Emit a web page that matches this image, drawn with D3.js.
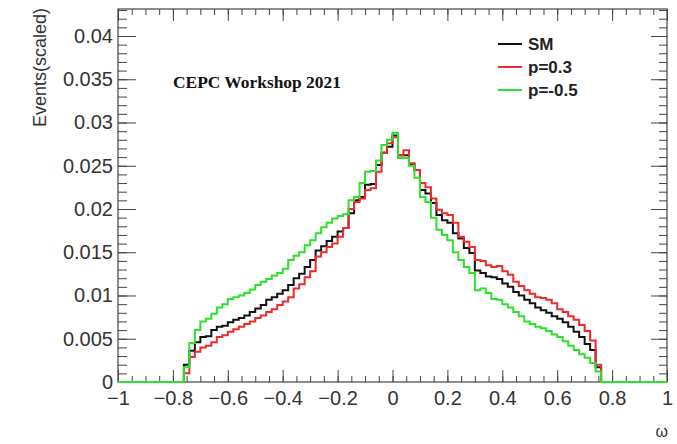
<!DOCTYPE html>
<html>
<head>
<meta charset="utf-8">
<script src="https://cdn.jsdelivr.net/npm/d3@7"></script>
<style>
  body { margin: 0; background: #fff; }
  text { font-family: "Liberation Sans", Arial, sans-serif; }
</style>
</head>
<body>
<svg width="677" height="444"></svg>
<script>
// histogram: 100 bins on [-1,1], only [-0.76,0.76] is filled
var binLow = -0.76;
var binWidth = 0.02;

var smValues = [
  0.0020, 0.0036, 0.0046, 0.0052, 0.0053, 0.0060, 0.0064, 0.0065, 0.0069, 0.0072,
  0.0074, 0.0077, 0.0081, 0.0085, 0.0089, 0.0095, 0.0098, 0.0102, 0.0106, 0.0112,
  0.0120, 0.0125, 0.0133, 0.0141, 0.0152, 0.0157, 0.0163, 0.0168, 0.0174, 0.0178,
  0.0195, 0.0210, 0.0214, 0.0228, 0.0229, 0.0251, 0.0265, 0.0272,
  0.0285, 0.0262, 0.0262, 0.0252, 0.0245, 0.0222, 0.0218, 0.0207, 0.0193, 0.0187,
  0.0184, 0.0172, 0.0166, 0.0155, 0.0149, 0.0129, 0.0126, 0.0122, 0.0121, 0.0119,
  0.0114, 0.0110, 0.0104, 0.0100, 0.0095, 0.0091, 0.0086, 0.0083, 0.0080, 0.0076,
  0.0073, 0.0069, 0.0064, 0.0058, 0.0052, 0.0044, 0.0037, 0.0017
];

var p03Values = [
  0.0010, 0.0029, 0.0035, 0.0040, 0.0042, 0.0046, 0.0052, 0.0054, 0.0058, 0.0061,
  0.0064, 0.0067, 0.0070, 0.0074, 0.0077, 0.0081, 0.0084, 0.0089, 0.0093, 0.0098,
  0.0108, 0.0113, 0.0121, 0.0128, 0.0145, 0.0150, 0.0156, 0.0160, 0.0168, 0.0178,
  0.0200, 0.0208, 0.0212, 0.0222, 0.0224, 0.0243, 0.0265, 0.0276,
  0.0283, 0.0262, 0.0268, 0.0253, 0.0245, 0.0230, 0.0225, 0.0212, 0.0199, 0.0195,
  0.0193, 0.0184, 0.0168, 0.0162, 0.0156, 0.0141, 0.0140, 0.0135, 0.0133, 0.0134,
  0.0128, 0.0124, 0.0116, 0.0111, 0.0106, 0.0102, 0.0098, 0.0097, 0.0095, 0.0091,
  0.0084, 0.0081, 0.0076, 0.0072, 0.0066, 0.0059, 0.0048, 0.0020
];

var pm05Values = [
  0.0017, 0.0045, 0.0060, 0.0070, 0.0073, 0.0079, 0.0086, 0.0090, 0.0096, 0.0098,
  0.0100, 0.0103, 0.0107, 0.0112, 0.0116, 0.0119, 0.0123, 0.0126, 0.0131, 0.0141,
  0.0146, 0.0150, 0.0158, 0.0164, 0.0172, 0.0179, 0.0184, 0.0189, 0.0192, 0.0194,
  0.0210, 0.0214, 0.0230, 0.0243, 0.0244, 0.0256, 0.0274, 0.0280,
  0.0288, 0.0259, 0.0259, 0.0250, 0.0236, 0.0214, 0.0208, 0.0190, 0.0176, 0.0170,
  0.0164, 0.0150, 0.0141, 0.0133, 0.0126, 0.0106, 0.0108, 0.0103, 0.0096, 0.0095,
  0.0090, 0.0086, 0.0081, 0.0076, 0.0070, 0.0067, 0.0064, 0.0062, 0.0059, 0.0055,
  0.0052, 0.0047, 0.0042, 0.0037, 0.0032, 0.0028, 0.0022, 0.0012
];

var series = [
  { name: "SM",     values: smValues,   color: "#111111" },
  { name: "p=0.3",  values: p03Values,  color: "#ee2a2a" },
  { name: "p=-0.5", values: pm05Values, color: "#2fe02f" }
];

var xTicks = [-1, -0.8, -0.6, -0.4, -0.2, 0, 0.2, 0.4, 0.6, 0.8, 1];
var xTickLabels = ["\u22121", "\u22120.8", "\u22120.6", "\u22120.4", "\u22120.2", "0", "0.2", "0.4", "0.6", "0.8", "1"];
var yTicks = [0, 0.005, 0.01, 0.015, 0.02, 0.025, 0.03, 0.035, 0.04];
var yTickLabels = ["0", "0.005", "0.01", "0.015", "0.02", "0.025", "0.03", "0.035", "0.04"];

var svg = d3.select("svg");

var frameL = 118, frameR = 667, frameT = 9, frameB = 382;

var x = d3.scaleLinear().domain([-1, 1]).range([frameL, frameR]);
var y = d3.scaleLinear().domain([0, 0.04312]).range([frameB, frameT]);

var axisColor = "#444";

// minor ticks
var xMinor = d3.range(-1, 1.0001, 0.05);
var yMinor = d3.range(0, 0.0431, 0.001);

function styleAxis(g) {
  g.select(".domain").remove();
  g.selectAll(".tick line").attr("stroke", axisColor).attr("stroke-width", 1);
}

// bottom
svg.append("g").attr("transform", "translate(0," + frameB + ")")
  .call(d3.axisBottom(x).tickValues(xMinor).tickSizeInner(-6).tickSizeOuter(0).tickFormat(""))
  .call(styleAxis);
svg.append("g").attr("transform", "translate(0," + frameB + ")")
  .call(d3.axisBottom(x).tickValues(xTicks).tickSizeInner(-12).tickSizeOuter(0).tickPadding(9)
    .tickFormat(function(d, i) { return xTickLabels[i]; }))
  .call(styleAxis)
  .call(function(g) {
    g.selectAll("text").attr("font-size", 20).attr("fill", "#333");
  });
// top
svg.append("g").attr("transform", "translate(0," + frameT + ")")
  .call(d3.axisTop(x).tickValues(xMinor).tickSizeInner(-6).tickSizeOuter(0).tickFormat(""))
  .call(styleAxis);
svg.append("g").attr("transform", "translate(0," + frameT + ")")
  .call(d3.axisTop(x).tickValues(xTicks).tickSizeInner(-12).tickSizeOuter(0).tickFormat(""))
  .call(styleAxis);
// left
svg.append("g").attr("transform", "translate(" + frameL + ",0)")
  .call(d3.axisLeft(y).tickValues(yMinor).tickSizeInner(-9).tickSizeOuter(0).tickFormat(""))
  .call(styleAxis);
svg.append("g").attr("transform", "translate(" + frameL + ",0)")
  .call(d3.axisLeft(y).tickValues(yTicks).tickSizeInner(-18).tickSizeOuter(0).tickPadding(5)
    .tickFormat(function(d, i) { return yTickLabels[i]; }))
  .call(styleAxis)
  .call(function(g) {
    g.selectAll("text").attr("font-size", 20).attr("fill", "#333");
  });
// right
svg.append("g").attr("transform", "translate(" + frameR + ",0)")
  .call(d3.axisRight(y).tickValues(yMinor).tickSizeInner(-8).tickSizeOuter(0).tickFormat(""))
  .call(styleAxis);
svg.append("g").attr("transform", "translate(" + frameR + ",0)")
  .call(d3.axisRight(y).tickValues(yTicks).tickSizeInner(-16).tickSizeOuter(0).tickFormat(""))
  .call(styleAxis);

// frame
svg.append("rect")
  .attr("x", frameL).attr("y", frameT)
  .attr("width", frameR - frameL).attr("height", frameB - frameT)
  .attr("fill", "none").attr("stroke", axisColor).attr("stroke-width", 1.2);

// histograms
var line = d3.line()
  .x(function(d) { return x(d[0]); })
  .y(function(d) { return y(d[1]); })
  .curve(d3.curveStepAfter);

series.forEach(function(s) {
  var pts = [[-1, 0]];
  s.values.forEach(function(v, i) { pts.push([binLow + i * binWidth, v]); });
  pts.push([binLow + s.values.length * binWidth, 0]);
  pts.push([1, 0]);
  svg.append("path")
    .datum(pts)
    .attr("d", line)
    .attr("fill", "none")
    .attr("stroke", s.color)
    .attr("stroke-width", 2);
});

// axis titles
svg.append("text")
  .attr("transform", "translate(46,8) rotate(-90)")
  .attr("text-anchor", "end")
  .attr("font-size", 18)
  .attr("fill", "#333")
  .text("Events(scaled)");

svg.append("text")
  .attr("x", 668).attr("y", 437)
  .attr("text-anchor", "end")
  .attr("font-size", 16)
  .attr("fill", "#333")
  .text("\u03c9");

svg.append("text")
  .attr("x", 173).attr("y", 88)
  .style("font-family", "'Liberation Serif', 'Times New Roman', serif")
  .attr("font-weight", "bold")
  .attr("font-size", 17.4)
  .attr("fill", "#111")
  .text("CEPC Workshop 2021");

// legend
var legend = svg.append("g");
series.forEach(function(s, i) {
  var ly = 44 + i * 23;
  legend.append("line")
    .attr("x1", 498).attr("x2", 522)
    .attr("y1", ly).attr("y2", ly)
    .attr("stroke", s.color).attr("stroke-width", 2);
  legend.append("text")
    .attr("x", 528).attr("y", ly + 6)
    .attr("font-size", 17)
    .attr("font-weight", "bold")
    .attr("fill", "#222")
    .text(s.name);
});
</script>
</body>
</html>
